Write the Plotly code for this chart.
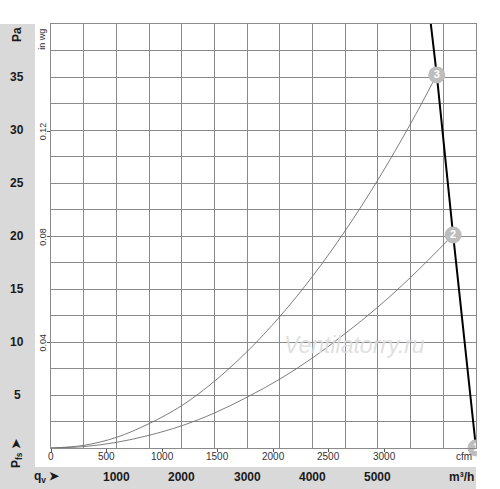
import plotly.graph_objects as go

# flow in m3/h, static pressure in Pa
q_grid = [0, 500, 1000, 1500, 2000, 2500, 3000, 3500, 4000, 4500, 5000, 5500]
curve3_q = q_grid + [5900]
curve3_p = [0, 0.25, 1.0, 2.3, 4.0, 6.3, 9.1, 12.4, 16.2, 20.5, 25.3, 30.6, 35.2]
curve2_q = q_grid + [6150]
curve2_p = [0, 0.13, 0.53, 1.2, 2.1, 3.3, 4.8, 6.5, 8.5, 10.8, 13.3, 16.1, 20.1]
fan_q = [5790, 5900, 6150, 6500]
fan_p = [41, 35.2, 20.1, 0]
points_q = [6500, 6150, 5900]
points_p = [0, 20.1, 35.2]
points_txt = ["1", "2", "3"]

pa_labels = [5, 10, 15, 20, 25, 30, 35]
m3h_labels = [1000, 2000, 3000, 4000, 5000]
cfm_ticks = [0, 500, 1000, 1500, 2000, 2500, 3000]
inwg_ticks = [0.04, 0.08, 0.12]

M3H_PER_CFM = 1.699
PA_PER_INWG = 249.09
X_MAX = 6500
Y_MAX = 40

FONT = "Liberation Sans, Arial, sans-serif"
GRID = "#8a8a8a"
BAND = "#d9d9d9"

fig = go.Figure()

fig.add_trace(go.Scatter(x=curve3_q, y=curve3_p, mode="lines", line_shape="spline",
                         line=dict(color="#6e6e6e", width=0.9), hoverinfo="skip"))
fig.add_trace(go.Scatter(x=curve2_q, y=curve2_p, mode="lines", line_shape="spline",
                         line=dict(color="#6e6e6e", width=0.9), hoverinfo="skip"))
fig.add_trace(go.Scatter(x=fan_q, y=fan_p, mode="lines",
                         line=dict(color="black", width=2), hoverinfo="skip"))
fig.add_trace(go.Scatter(x=points_q, y=points_p, mode="markers+text", text=points_txt,
                         textposition="middle center", cliponaxis=False,
                         textfont=dict(family=FONT, size=11, color="white", weight="bold"),
                         marker=dict(size=17, color="#bdbdbd"), hoverinfo="skip"))

# dummy trace so the secondary (cfm / in wg) axes get drawn
fig.add_trace(go.Scatter(x=[0], y=[0], xaxis="x2", yaxis="y2", mode="markers",
                         marker=dict(opacity=0), hoverinfo="skip"))

fig.update_layout(
    width=500, height=489,
    margin=dict(l=51, r=24, t=24, b=41),
    paper_bgcolor="white", plot_bgcolor="white",
    showlegend=False,
    xaxis=dict(range=[0, X_MAX], dtick=500, tick0=0, showgrid=True, gridcolor=GRID, gridwidth=1,
               showticklabels=False, ticks="", zeroline=False,
               showline=True, linecolor=GRID, linewidth=1, mirror=True),
    yaxis=dict(range=[0, Y_MAX], dtick=2.5, tick0=0, showgrid=True, gridcolor=GRID, gridwidth=1,
               showticklabels=False, ticks="", zeroline=False,
               showline=True, linecolor=GRID, linewidth=1, mirror=True),
    xaxis2=dict(range=[0, X_MAX / M3H_PER_CFM], overlaying="x", side="bottom",
                tickmode="array", tickvals=cfm_ticks, showticklabels=False,
                ticks="outside", ticklen=3, tickcolor="#555", showgrid=False, zeroline=False,
                showline=False),
    yaxis2=dict(range=[0, Y_MAX / PA_PER_INWG], overlaying="y", side="left",
                tickmode="array", tickvals=inwg_ticks, showticklabels=False,
                ticks="outside", ticklen=3, tickcolor="#555",
                showgrid=False, zeroline=False, showline=False),
)

# grey bands left and bottom
fig.add_shape(type="rect", xref="paper", yref="paper", x0=-0.12, x1=-0.0376, y0=-0.0967, y1=1.0,
              fillcolor=BAND, line_width=0, layer="below")
fig.add_shape(type="rect", xref="paper", yref="paper", x0=-0.12, x1=1.0, y0=-0.0967, y1=-0.0448,
              fillcolor=BAND, line_width=0, layer="below")
# cut the "1" bubble at the right edge
fig.add_shape(type="rect", xref="paper", yref="paper", x0=1.002, x1=1.1, y0=-0.04, y1=0.04,
              fillcolor="white", line_width=0, layer="above")

bold = dict(family=FONT, size=12, color="#1a1a1a", weight="bold")
small = dict(family=FONT, size=10, color="#333")
mid = dict(showarrow=False, xanchor="center", yanchor="middle")

for v in pa_labels:
    fig.add_annotation(x=-0.08, xref="paper", y=v, yref="y", text=str(v), font=bold, **mid)
fig.add_annotation(x=-0.08, xref="paper", y=0.974, yref="paper", text="Pa", textangle=-90,
                   font=bold, **mid)
fig.add_annotation(x=-0.08, xref="paper", y=-0.012, yref="paper", text="P<sub>fs</sub> ➤",
                   textangle=-90, font=bold, **mid)

for v in m3h_labels:
    fig.add_annotation(x=v, xref="x", y=-0.0684, yref="paper", text=str(v), font=bold, **mid)
fig.add_annotation(x=-0.0094, xref="paper", y=-0.0684, yref="paper", text="q<sub>v</sub> ➤",
                   font=bold, **mid)
fig.add_annotation(x=0.967, xref="paper", y=-0.0684, yref="paper", text="m³/h", font=bold, **mid)

# cfm and in wg scales
for v in cfm_ticks:
    fig.add_annotation(x=v, xref="x2", y=-0.0189, yref="paper", text=str(v), font=small, **mid)
fig.add_annotation(x=0.972, xref="paper", y=-0.0189, yref="paper", text="cfm", font=small, **mid)
for v in inwg_ticks:
    fig.add_annotation(x=-0.0188, xref="paper", y=v, yref="y2", text=str(v), textangle=-90,
                       font=dict(family=FONT, size=9, color="#333"), **mid)
fig.add_annotation(x=-0.0212, xref="paper", y=0.965, yref="paper", text="in wg", textangle=-90,
                   font=dict(family=FONT, size=9, color="#333"), **mid)

# watermark
fig.add_annotation(x=0.713, xref="paper", y=0.243, yref="paper", text="<i>Ventilatorry.ru</i>",
                   font=dict(family=FONT, size=23, color="rgba(220,220,220,0.9)"), **mid)

# page body has an 8px default margin, drop it so the figure sits at 0,0
fig.write_html("out.html", config={"displayModeBar": False},
               post_script="document.body.style.margin='0';")
